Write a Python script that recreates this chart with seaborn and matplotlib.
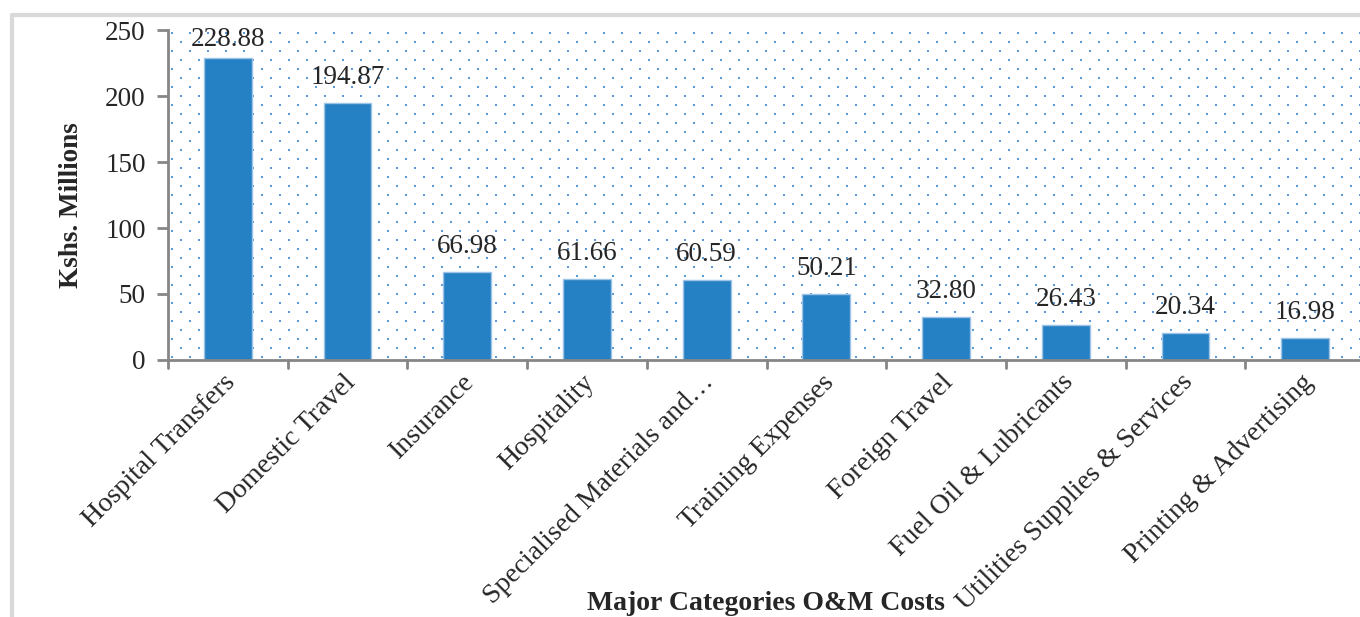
import matplotlib
matplotlib.use("Agg")
import numpy as np
import matplotlib.pyplot as plt
import matplotlib.transforms as mtransforms
import seaborn as sns
from matplotlib.lines import Line2D

categories = ["Hospital Transfers", "Domestic Travel", "Insurance", "Hospitality",
              "Specialised Materials and…", "Training Expenses", "Foreign Travel",
              "Fuel Oil & Lubricants", "Utilities Supplies & Services",
              "Printing & Advertising"]
values = [228.88, 194.87, 66.98, 61.66, 60.59, 50.21, 32.80, 26.43, 20.34, 16.98]
value_labels = ["228.88", "194.87", "66.98", "61.66", "60.59", "50.21", "32.80",
                "26.43", "20.34", "16.98"]
yticks = [0, 50, 100, 150, 200, 250]

sns.set_style("white")
plt.rcParams['font.family'] = ['Liberation Serif', 'DejaVu Serif']

fig = plt.figure(figsize=(13.6, 6.17), dpi=100)
ax = fig.add_axes([168/1360, 1 - 360/617, 1197/1360, 330/617])

# dotted fill of the plot area (Excel pattern fill): staggered dot lattice
w_px, h_px = 1197, 330
rows = np.arange(3, h_px, 9)
px, py = [], []
for r, yy in enumerate(rows):
    xs = np.arange(4 + (r % 2) * 9, w_px, 18)
    px.extend(xs)
    py.extend([yy] * len(xs))
ax.scatter(np.array(px) / w_px, 1 - np.array(py) / h_px, s=4, marker='s',
           color='#5b9bd5', linewidths=0, transform=ax.transAxes,
           zorder=0, clip_on=True)

blue = '#2681c4'
sns.barplot(x=categories, y=values, color=blue, width=0.4, saturation=1,
            edgecolor='#9dc3e6', linewidth=1, ax=ax, zorder=2)

# data labels, kept inside the plot area like Excel does
for i, (v, t) in enumerate(zip(values, value_labels)):
    ax.text(i, min(v + 14.4, 238), t, ha='center', va='baseline', fontsize=19.5,
            zorder=3)

ax.set_xlim(-0.5, len(categories) - 0.5)
ax.set_ylim(0, 250)
ax.set_yticks(yticks)
ax.set_yticklabels([str(t) for t in yticks], fontsize=19.5)

ax.set_xticks(range(len(categories)))
ax.set_xticklabels(categories, rotation=45, ha='right', rotation_mode='anchor',
                   fontsize=20)
ax.tick_params(axis='x', length=0, pad=7)
ax.tick_params(axis='y', length=8, width=2, color='#868686', pad=8, left=True)
shift = mtransforms.ScaledTranslation(-5/100, 0, fig.dpi_scale_trans)
for lbl in ax.get_xticklabels():
    lbl.set_transform(lbl.get_transform() + shift)

# category separator ticks below the axis
for k in range(len(categories)):
    ax.add_line(Line2D([k - 0.5, k - 0.5], [0, -0.025], transform=ax.get_xaxis_transform(),
                       color='#868686', lw=2, clip_on=False))

for s in ['top', 'right']:
    ax.spines[s].set_visible(False)
for s in ['left', 'bottom']:
    ax.spines[s].set_color('#868686')
    ax.spines[s].set_linewidth(2)

fig.text(72/1360, 1 - 205/617, "Kshs. Millions", rotation=90, ha='center', va='center',
         fontsize=19.5, fontweight='bold')
fig.text(766/1360, 1 - 604/617, "Major Categories O&M Costs", ha='center', va='center',
         fontsize=20, fontweight='bold')

# screenshot frame
fig.add_artist(Line2D([12/1360, 12/1360], [0, 1 - 15/617], color='#d9d9d9', lw=3))
fig.add_artist(Line2D([12/1360, 1], [1 - 15/617, 1 - 15/617], color='#d9d9d9', lw=3))

fig.savefig("out.png", dpi=100)
